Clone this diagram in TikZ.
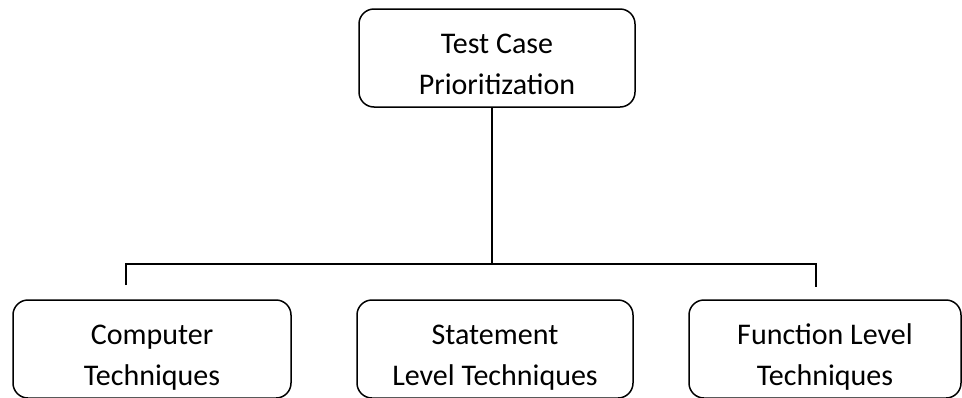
\documentclass[tikz,border=0pt]{standalone}
\usepackage{fontspec}
\setmainfont{Carlito}
\usepackage{tikz}

\begin{document}
\begin{tikzpicture}[x=1pt,y=-1pt,
	box/.style={draw,line width=1.5pt,rounded corners=15pt,minimum height=98pt,inner sep=0pt,align=center,font=\fontsize{30}{41}\selectfont,
		execute at begin node={\rule{0pt}{80pt}},execute at end node={\rule[-7pt]{0pt}{7pt}}},
	link/.style={draw,line width=1.2pt}]
	\useasboundingbox (0,0) rectangle (962,397);
	\node[box,minimum width=276pt] (tcp) at (497,58) {Test Case\\Prioritization};
	\node[box,minimum width=278pt] (comp) at (152,349) {Computer\\Techniques};
	\node[box,minimum width=276pt] (stmt) at (495,349) {Statement\\Level Techniques};
	\node[box,minimum width=272pt] (func) at (825,349) {Function Level\\Techniques};
	\coordinate (hub) at (492,264);
	\coordinate (lend) at (126,285);
	\coordinate (rend) at (816,287);
	\draw[link] (tcp.south -| hub) -- (hub);
	\draw[link] (lend) -- (lend |- hub) -- (rend |- hub) -- (rend);
\end{tikzpicture}
\end{document}
